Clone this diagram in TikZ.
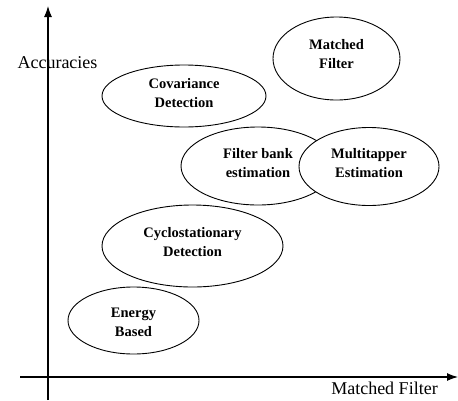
\documentclass[tikz,border=0pt]{standalone}
\usepackage{fontspec}
\setmainfont{Liberation Serif}
\usetikzlibrary{shapes.geometric,arrows.meta}
\begin{document}
\begin{tikzpicture}[x=1pt,y=-1pt,
  blob/.style={ellipse, draw, line width=0.9pt, fill=white, inner sep=0pt},
  blobtext/.style={align=center, inner sep=0pt,
    font=\bfseries\fontsize{14.5}{19}\selectfont},
  axis/.style={line width=1.1pt, -{Latex[length=11pt,width=8pt]}},
  axislabel/.style={font=\fontsize{18}{20}\selectfont, inner sep=0pt}]
\useasboundingbox (0,0) rectangle (458,400);
% axes
\coordinate (ybot) at (48,400);
\coordinate (ytop) at (48,6);
\coordinate (xl) at (20,377);
\coordinate (xr) at (458,377);
\draw[axis] (ybot) -- (ytop);
\draw[axis] (xl) -- (xr);
\node[axislabel] (acc) at (57.5,63) {Accuracies};
\node[axislabel] (mflab) at (384.5,388.5) {Matched Filter};
% detection techniques
\node[blob, minimum width=127pt, minimum height=83pt] (mf) at (336.5,58.5) {};
\node[blobtext] (mft) at ([yshift=4pt]mf.center) {Matched\\Filter};
\node[blob, minimum width=164pt, minimum height=62pt] (cov) at (184,96) {};
\node[blobtext] (covt) at ([yshift=3pt]cov.center) {Covariance\\Detection};
\node[blob, minimum width=154pt, minimum height=78pt] (fb) at (258,166) {};
\node[blobtext] (fbt) at ([yshift=2.5pt]fb.center) {Filter bank\\estimation};
\node[blob, minimum width=140pt, minimum height=78pt] (mt) at (369,166.5) {};
\node[blobtext] (mtt) at ([yshift=3pt]mt.center) {Multitapper\\Estimation};
\node[blob, minimum width=181pt, minimum height=82pt] (cyc) at (192.5,246) {};
\node[blobtext] (cyct) at ([yshift=3.5pt]cyc.center) {Cyclostationary\\Detection};
\node[blob, minimum width=131pt, minimum height=67pt] (eb) at (133.5,320.5) {};
\node[blobtext] (ebt) at ([yshift=-1.5pt]eb.center) {Energy\\Based};
\end{tikzpicture}
\end{document}
